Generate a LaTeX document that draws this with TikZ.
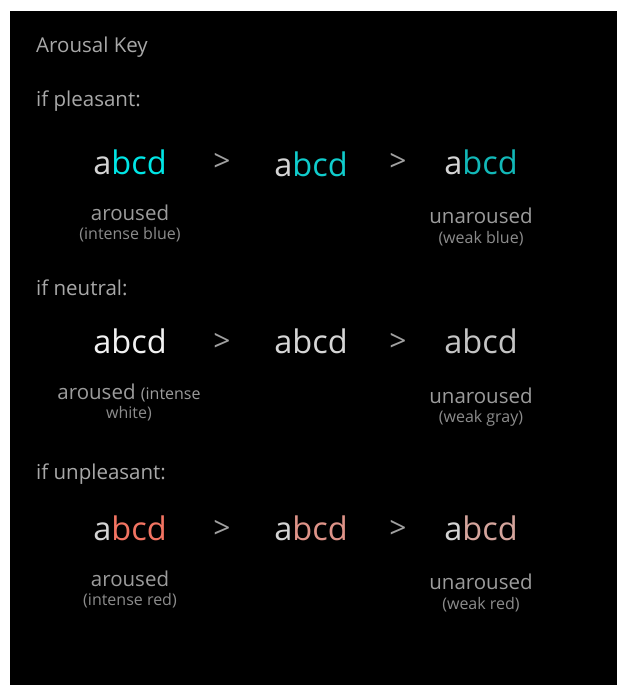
\documentclass[tikz,border=0pt]{standalone}
\usepackage{fontspec}
\setmainfont{Open Sans}
\definecolor{bgblack}{HTML}{000000}
\definecolor{headgray}{HTML}{A8A8A8}
\definecolor{labgray}{HTML}{9C9C9C}
\definecolor{subgray}{HTML}{8C8C8C}
\definecolor{agray}{HTML}{D4D4D4}
\definecolor{blueA}{HTML}{00E6E6}
\definecolor{blueB}{HTML}{10CCCC}
\definecolor{blueC}{HTML}{12B8B8}
\definecolor{whiteA}{HTML}{F2F2F2}
\definecolor{whiteB}{HTML}{D6D6D6}
\definecolor{whiteC}{HTML}{C4C4C4}
\definecolor{redA}{HTML}{F27462}
\definecolor{redB}{HTML}{DE9388}
\definecolor{redC}{HTML}{D4A49C}
\definecolor{gtgray}{HTML}{A0A0A0}
\tikzset{
  head/.style={anchor=west, inner sep=0pt, text=headgray, font=\fontsize{20.5}{24}\selectfont},
  sample/.style={inner sep=0pt, font=\fontsize{32.5}{36}\selectfont},
  gt/.style={inner sep=0pt, text=gtgray, font=\fontsize{30}{32}\selectfont},
  lab/.style={inner sep=0pt, text=labgray, font=\fontsize{20.5}{24}\selectfont},
  sub/.style={inner sep=0pt, text=subgray, font=\fontsize{16}{18}\selectfont},
}
\begin{document}
\begin{tikzpicture}[x=1pt,y=-1pt]
\useasboundingbox (0,0) rectangle (617,685);
\fill[white] (0,0) rectangle (617,685);
\fill[bgblack] (10,11) rectangle (617,685);

\node[head] (title) at (36,47) {Arousal Key};

% pleasant
\node[head] (hp) at (36,101) {if pleasant:};
\node[sample] (p1) at (130,162) {\textcolor{agray}{a}\textcolor{blueA}{bcd}};
\node[gt] (pg1) at (222,162) {>};
\node[sample] (p2) at (311,164) {\textcolor{agray}{a}\textcolor{blueB}{bcd}};
\node[gt] (pg2) at (398,162) {>};
\node[sample] (p3) at (481,162) {\textcolor{agray}{a}\textcolor{blueC}{bcd}};
\node[lab] (pl1) at (130,213) {aroused};
\node[sub] (ps1) at (130,235) {(intense blue)};
\node[lab] (pl3) at (481,216) {unaroused};
\node[sub] (ps3) at (481,239) {(weak blue)};

% neutral
\node[head] (hn) at (36,288) {if neutral:};
\node[sample] (n1) at (130,341) {\textcolor{whiteA}{abcd}};
\node[gt] (ng1) at (222,342) {>};
\node[sample] (n2) at (311,341) {\textcolor{whiteB}{abcd}};
\node[gt] (ng2) at (398,342) {>};
\node[sample] (n3) at (481,341) {\textcolor{whiteC}{abcd}};
\node[inner sep=0pt, text=labgray] (nl1) at (129,393) {{\fontsize{20.5}{24}\selectfont aroused }{\fontsize{16}{18}\selectfont(intense}};
\node[sub] (ns1) at (129,414) {white)};
\node[lab] (nl3) at (481,396) {unaroused};
\node[sub] (ns3) at (481,418) {(weak gray)};

% unpleasant
\node[head] (hu) at (36,474) {if unpleasant:};
\node[sample] (u1) at (130,528) {\textcolor{agray}{a}\textcolor{redA}{bcd}};
\node[gt] (ug1) at (222,529) {>};
\node[sample] (u2) at (311,528) {\textcolor{agray}{a}\textcolor{redB}{bcd}};
\node[gt] (ug2) at (398,529) {>};
\node[sample] (u3) at (481,528) {\textcolor{agray}{a}\textcolor{redC}{bcd}};
\node[lab] (ul1) at (130,579) {aroused};
\node[sub] (us1) at (130,601) {(intense red)};
\node[lab] (ul3) at (481,582) {unaroused};
\node[sub] (us3) at (481,605) {(weak red)};
\end{tikzpicture}
\end{document}
